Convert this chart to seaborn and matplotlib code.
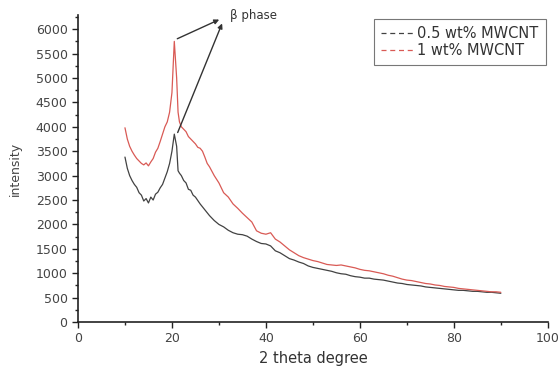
import numpy as np
import matplotlib
matplotlib.use("Agg")
import matplotlib.pyplot as plt
from matplotlib.lines import Line2D
import seaborn as sns
import pandas as pd

# 2 theta (degree) sample positions
theta_a = [10, 10.5, 11, 11.5, 12, 12.5, 13, 13.5, 14, 14.5, 15, 15.5, 16, 16.5, 17, 17.5,
           18, 18.5, 19, 19.5, 20, 20.5, 21, 21.3, 21.6, 22, 22.5, 23, 23.5, 24, 24.5, 25,
           26, 27, 28, 29, 30, 31, 32, 33, 34, 35, 36, 37, 38, 39, 40, 41, 42, 43, 44, 45,
           46, 47, 48, 49, 50, 51, 52, 53, 54, 55, 56, 57, 58, 59, 60, 61, 62, 63, 64, 65,
           66, 67, 68, 69, 70, 71, 72, 73, 74, 75, 76, 77, 78, 79, 80, 81, 82, 83, 84, 85,
           86, 87, 88, 89, 90]
# 0.5 wt% MWCNT
int_05 = [3380, 3150, 3000, 2900, 2820, 2760, 2650, 2600, 2480, 2530, 2440, 2560, 2500, 2620,
          2660, 2750, 2820, 2950, 3080, 3250, 3500, 3850, 3600, 3100, 3050, 3000, 2900, 2850,
          2720, 2700, 2600, 2560, 2420, 2300, 2180, 2080, 2000, 1950, 1880, 1830, 1800, 1790,
          1760, 1700, 1650, 1610, 1600, 1560, 1460, 1420, 1360, 1300, 1270, 1230, 1200, 1150,
          1120, 1100, 1080, 1060, 1040, 1010, 990, 980, 950, 930, 920, 900, 900, 880, 870, 860,
          840, 820, 800, 790, 770, 760, 750, 740, 720, 710, 700, 690, 680, 670, 660, 650, 650,
          640, 630, 630, 620, 610, 610, 600, 590]

theta_b = [10, 10.5, 11, 11.5, 12, 12.5, 13, 13.5, 14, 14.5, 15, 15.5, 16, 16.5, 17, 17.5,
           18, 18.5, 19, 19.5, 20, 20.5, 21, 21.3, 21.6, 22, 22.5, 23, 23.5, 24, 24.5, 25,
           25.5, 26, 26.5, 27, 27.5, 28, 29, 30, 31, 32, 33, 34, 35, 36, 37, 38, 39, 40, 41,
           42, 43, 44, 45, 46, 47, 48, 49, 50, 51, 52, 53, 54, 55, 56, 57, 58, 59, 60, 61, 62,
           63, 64, 65, 66, 67, 68, 69, 70, 71, 72, 73, 74, 75, 76, 77, 78, 79, 80, 81, 82, 83,
           84, 85, 86, 87, 88, 89, 90]
# 1 wt% MWCNT
int_1 = [3980, 3750, 3600, 3500, 3420, 3350, 3300, 3250, 3220, 3260, 3200, 3280, 3350, 3480,
         3560, 3700, 3850, 4000, 4100, 4300, 4700, 5750, 5000, 4300, 4100, 4000, 3950, 3900,
         3800, 3750, 3700, 3650, 3580, 3560, 3500, 3380, 3250, 3180, 3000, 2850, 2650, 2560,
         2420, 2330, 2230, 2140, 2050, 1870, 1820, 1800, 1830, 1700, 1640, 1560, 1480, 1420,
         1360, 1320, 1290, 1260, 1240, 1210, 1180, 1170, 1160, 1170, 1150, 1130, 1110, 1080,
         1060, 1050, 1030, 1010, 990, 960, 940, 910, 880, 860, 850, 830, 810, 790, 780, 760,
         750, 730, 720, 710, 690, 680, 670, 660, 650, 640, 630, 620, 620, 610]

labels = ["0.5 wt% MWCNT", "1 wt% MWCNT"]
colors = ["#424242", "#d95a55"]

df = pd.concat([
    pd.DataFrame({"theta": theta_a, "intensity": int_05, "sample": labels[0]}),
    pd.DataFrame({"theta": theta_b, "intensity": int_1, "sample": labels[1]}),
])

sns.set_style("ticks")
plt.rcParams["font.family"] = ["DejaVu Sans"]

fig = plt.figure(figsize=(5.59, 3.66), dpi=100)
ax = fig.add_axes([0.1395, 0.12, 0.8405, 0.839])
sns.lineplot(data=df, x="theta", y="intensity", hue="sample", palette=colors,
             linewidth=0.9, legend=False, ax=ax, sort=False)

ax.set_xlim(0, 100)
ax.set_ylim(0, 6290)
ax.set_xticks(np.arange(0, 101, 20))
ax.set_xticks(np.arange(0, 101, 10), minor=True)
ax.set_yticks(np.arange(0, 6001, 500))
ax.set_yticks(np.arange(0, 6251, 250), minor=True)
ax.tick_params(axis="both", which="major", direction="out", length=4, width=1,
               labelsize=9, labelcolor="#444444", colors="#222222")
ax.tick_params(axis="both", which="minor", direction="out", length=2.5, width=1, colors="#222222")
for s in ["top", "right"]:
    ax.spines[s].set_visible(False)
for s in ["left", "bottom"]:
    ax.spines[s].set_linewidth(1.2)
    ax.spines[s].set_color("#222222")

ax.set_xlabel("2 theta degree", fontsize=10.5, color="#333333", labelpad=4)
ax.set_ylabel("intensity", fontsize=9, color="#444444", labelpad=10)

# beta phase arrows
ax.annotate("", xy=(30.6, 6220), xytext=(20.6, 5780),
            arrowprops=dict(arrowstyle="-|>", color="#333333", lw=1, mutation_scale=7),
            annotation_clip=False)
ax.annotate("", xy=(30.9, 6170), xytext=(21.0, 3830),
            arrowprops=dict(arrowstyle="-|>", color="#333333", lw=1, mutation_scale=7),
            annotation_clip=False)
ax.text(32.3, 6290, "β phase", fontsize=8.5, color="#333333", va="center", ha="left",
        clip_on=False)

handles = [Line2D([], [], color=c, linestyle=(0, (4, 3)), lw=0.9) for c in colors]
leg = ax.legend(handles, labels, loc="upper right", bbox_to_anchor=(0.996, 0.987),
                fontsize=10.5, handlelength=2.4, handletextpad=0.1, borderpad=0.5,
                labelspacing=0.1, borderaxespad=0, fancybox=False, frameon=True,
                edgecolor="#555555")
leg.get_frame().set_linewidth(0.8)
for t in leg.get_texts():
    t.set_color("#333333")

fig.savefig("out.png", dpi=100)
